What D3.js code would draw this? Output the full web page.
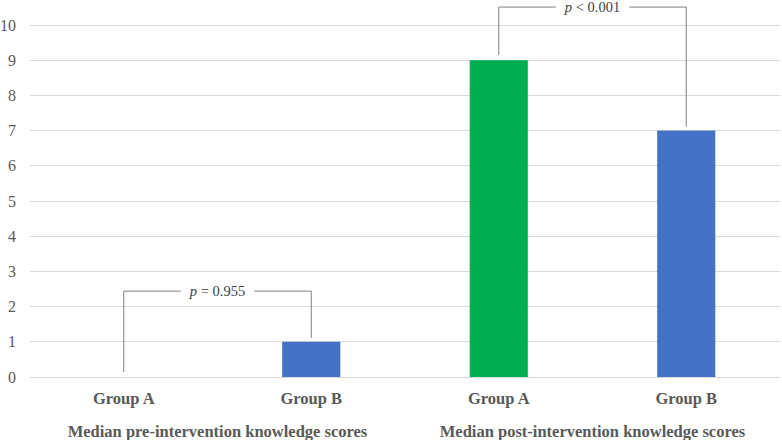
<!DOCTYPE html>
<html><head><meta charset="utf-8">
<script src="https://cdn.jsdelivr.net/npm/d3@7"></script>
<style>body{margin:0;background:#fff}svg{display:block}</style>
</head><body>
<svg id="c" width="782" height="440"></svg>
<script>
const categories = ["Group A", "Group B", "Group A", "Group B"];
const phases = ["Median pre-intervention knowledge scores", "Median post-intervention knowledge scores"];
const phaseOfBar = [0, 0, 1, 1];
const values = [0, 1, 9, 7];
const barColors = ["#4472C4", "#4472C4", "#00B050", "#4472C4"];
const yTicks = [0,1,2,3,4,5,6,7,8,9,10];
const pLabels = [{op:"= 0.955", from:0, to:1, top:2.44}, {op:"< 0.001", from:2, to:3, top:10.51}];

const W = 782, H = 440;
const m = {l:30, r:2, t:25, b:63};
const svg = d3.select("#c");
const x = d3.scaleBand().domain(d3.range(values.length)).range([m.l, W - m.r]).paddingInner(0.69).paddingOuter(0.345);
const y = d3.scaleLinear().domain([0, 10]).range([H - m.b, m.t]);
const font = "'Liberation Serif', 'DejaVu Serif', serif";

// gridlines
svg.append("g").selectAll("line").data(yTicks).join("line")
  .attr("x1", m.l).attr("x2", W - m.r)
  .attr("y1", d => y(d)).attr("y2", d => y(d))
  .attr("stroke", "#d9d9d9").attr("stroke-width", 1).attr("shape-rendering","crispEdges");

// y axis labels
const yAxis = d3.axisLeft(y).tickValues(yTicks).tickSize(0).tickPadding(0).tickFormat(d3.format("d"));
const ya = svg.append("g").attr("transform", `translate(${m.l - 14},0)`).call(yAxis);
ya.select(".domain").remove();
ya.selectAll("text").attr("font-family", font).attr("font-size", 16).attr("fill", "#595959");

// bars
svg.append("g").selectAll("rect").data(values).join("rect")
  .attr("x", (d,i) => x(i)).attr("width", x.bandwidth())
  .attr("y", d => y(d)).attr("height", d => y(0) - y(d))
  .attr("fill", (d,i) => barColors[i]);

// category labels
svg.append("g").selectAll("text").data(categories).join("text")
  .attr("x", (d,i) => x(i) + x.bandwidth()/2).attr("y", 404)
  .attr("text-anchor", "middle").attr("font-family", font).attr("font-weight", "bold")
  .attr("font-size", 16.5).attr("fill", "#595959").text(d => d);

// phase labels
svg.append("g").selectAll("text").data(phases).join("text")
  .attr("x", (d,p) => {
    const idx = d3.range(values.length).filter(i => phaseOfBar[i] === p);
    return (x(idx[0]) + x(idx[idx.length-1]) + x.bandwidth()) / 2;
  })
  .attr("y", 437).attr("text-anchor", "middle").attr("font-family", font).attr("font-weight", "bold")
  .attr("font-size", 16.5).attr("fill", "#595959").text(d => d);

// brackets
const bg = svg.append("g");
pLabels.forEach(p => {
  const x1 = x(p.from) + x.bandwidth()/2, x2 = x(p.to) + x.bandwidth()/2;
  const yt = y(p.top);
  const b1 = y(values[p.from]) - 5, b2 = y(values[p.to]) - 4;
  const cx = (x1 + x2) / 2;
  const t = bg.append("text").attr("x", cx).attr("y", yt + 5).attr("text-anchor", "middle")
    .attr("font-family", font).attr("font-size", 14.5).attr("fill", "#404040");
  t.append("tspan").attr("font-style", "italic").text("p");
  t.append("tspan").text(" " + p.op);
  const tw = t.node().getComputedTextLength();
  const gap = tw / 2 + 9;
  const stroke = "#7f7f7f";
  bg.append("path").attr("d", `M${x1},${b1}V${yt}H${cx - gap}`).attr("fill","none").attr("stroke",stroke).attr("stroke-width",1);
  bg.append("path").attr("d", `M${cx + gap},${yt}H${x2}V${b2}`).attr("fill","none").attr("stroke",stroke).attr("stroke-width",1);
});
</script>
</body></html>
